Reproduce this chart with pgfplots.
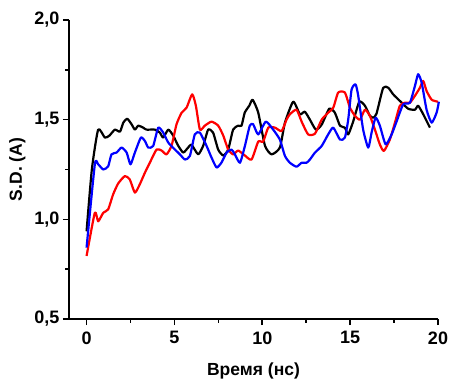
\documentclass[border=0pt]{standalone}
\usepackage{pgfplots}
\pgfplotsset{compat=1.18}
\usepackage{fontspec}
\setmainfont{Liberation Sans}
\begin{document}
\begin{tikzpicture}[x=1pt,y=1pt]
\useasboundingbox (0,0) rectangle (449,380);
\begin{axis}[
  at={(69pt,61pt)}, anchor=south west,
  scale only axis, width=369pt, height=299pt,
  xmin=-1, xmax=20, ymin=0.5, ymax=2.0,
  axis x line*=bottom, axis y line*=left,
  axis line style={line width=2pt},
  xtick={0,5,10,15,20}, ytick={0.5,1.0,1.5,2.0},
  minor xtick={2.5,7.5,12.5,17.5}, minor ytick={0.75,1.25,1.75},
  tick align=outside,
  major tick length=6pt, minor tick length=3.5pt,
  every tick/.style={black, line width=1.6pt},
  /pgf/number format/assume math mode=true,
  tick label style={font=\fontsize{18}{20}\selectfont\bfseries},
  yticklabel style={/pgf/number format/.cd, fixed, fixed zerofill, precision=1, use comma},
  xticklabel style={yshift=-3pt, /pgf/number format/.cd, fixed, precision=0},
  xlabel={Время (нс)}, ylabel={S.D. (A)},
  label style={font=\fontsize{17.5}{19}\selectfont\bfseries},
  xlabel style={yshift=-12pt},
  ylabel style={yshift=2pt},
  clip=false,
  every axis plot/.append style={line width=2.2pt, line join=round, smooth, tension=0.35},
]
\addplot[black] coordinates {
(0,0.94) (0.3,1.25) (0.66,1.45) (1.04,1.41) (1.3,1.42) (1.61,1.45) (1.9,1.44) (2.09,1.485) (2.31,1.505) (2.56,1.477) (2.75,1.45) (2.94,1.47) (3.22,1.46) (3.41,1.45) (3.89,1.45) (4.17,1.435) (4.36,1.41) (4.65,1.45) (4.93,1.42) (5.21,1.37) (5.5,1.335) (5.78,1.36) (5.97,1.375) (6.35,1.326) (6.64,1.37) (6.92,1.45) (7.2,1.435) (7.49,1.35) (7.78,1.32) (8.06,1.35) (8.34,1.45) (8.63,1.47) (8.82,1.47) (9.0,1.535) (9.26,1.57) (9.45,1.60) (9.77,1.535) (10.15,1.37) (10.53,1.326) (11.0,1.36) (11.29,1.485) (11.76,1.59) (12.14,1.527) (12.42,1.54) (12.71,1.50) (13.05,1.45) (13.38,1.475) (13.81,1.555) (14.13,1.535) (14.42,1.47) (14.7,1.46) (14.89,1.426) (15.17,1.49) (15.52,1.59) (15.84,1.57) (16.12,1.52) (16.31,1.51) (16.5,1.53) (16.88,1.66) (17.17,1.66) (17.45,1.627) (17.83,1.594) (18.3,1.555) (18.69,1.55) (18.87,1.57) (19.16,1.527) (19.54,1.46)
};
\addplot[red] coordinates {
(0,0.816) (0.47,1.033) (0.66,0.99) (0.95,1.033) (1.23,1.05) (1.51,1.125) (1.8,1.18) (2.18,1.217) (2.46,1.20) (2.75,1.134) (3.03,1.176) (3.32,1.234) (3.6,1.284) (3.98,1.35) (4.27,1.345) (4.55,1.326) (4.84,1.37) (5.12,1.477) (5.41,1.535) (5.69,1.56) (6.01,1.627) (6.22,1.57) (6.45,1.45) (6.73,1.47) (7.11,1.49) (7.49,1.47) (7.78,1.42) (8.06,1.35) (8.34,1.326) (8.63,1.345) (9.01,1.32) (9.39,1.30) (9.77,1.39) (10.05,1.39) (10.34,1.46) (10.72,1.46) (11.1,1.443) (11.38,1.50) (11.57,1.527) (11.95,1.55) (12.24,1.49) (12.61,1.426) (13.0,1.43) (13.38,1.50) (13.75,1.535) (14.04,1.56) (14.32,1.636) (14.7,1.636) (14.99,1.56) (15.27,1.52) (15.56,1.50) (15.84,1.55) (16.12,1.52) (16.41,1.45) (16.69,1.376) (16.92,1.343) (17.26,1.40) (17.55,1.485) (17.83,1.57) (18.12,1.585) (18.4,1.585) (18.69,1.62) (18.97,1.66) (19.16,1.694) (19.35,1.644) (19.64,1.60) (20,1.59)
};
\addplot[blue] coordinates {
(0,0.858) (0.47,1.276) (0.66,1.276) (0.95,1.25) (1.23,1.266) (1.42,1.326) (1.71,1.335) (1.99,1.36) (2.28,1.335) (2.5,1.276) (2.75,1.335) (3.09,1.41) (3.32,1.393) (3.51,1.36) (3.79,1.368) (4.08,1.46) (4.36,1.435) (4.65,1.385) (5.03,1.35) (5.31,1.326) (5.6,1.30) (5.88,1.318) (6.16,1.426) (6.45,1.435) (6.83,1.368) (7.11,1.31) (7.4,1.26) (7.68,1.285) (7.97,1.335) (8.25,1.35) (8.44,1.326) (8.73,1.284) (9.01,1.368) (9.29,1.47) (9.48,1.477) (9.77,1.426) (10.2,1.49) (10.62,1.45) (11.0,1.40) (11.29,1.318) (11.57,1.284) (11.95,1.264) (12.24,1.284) (12.52,1.284) (12.71,1.30) (13.0,1.335) (13.38,1.368) (13.75,1.426) (14.04,1.46) (14.42,1.40) (14.7,1.41) (14.89,1.50) (15.08,1.65) (15.31,1.677) (15.46,1.62) (15.74,1.45) (16.03,1.36) (16.22,1.435) (16.45,1.51) (16.69,1.47) (17.02,1.376) (17.36,1.426) (17.64,1.49) (18.02,1.577) (18.4,1.585) (18.69,1.67) (18.87,1.728) (19.07,1.686) (19.35,1.55) (19.64,1.485) (19.92,1.535) (20.05,1.59)
};
\end{axis}
\end{tikzpicture}
\end{document}
